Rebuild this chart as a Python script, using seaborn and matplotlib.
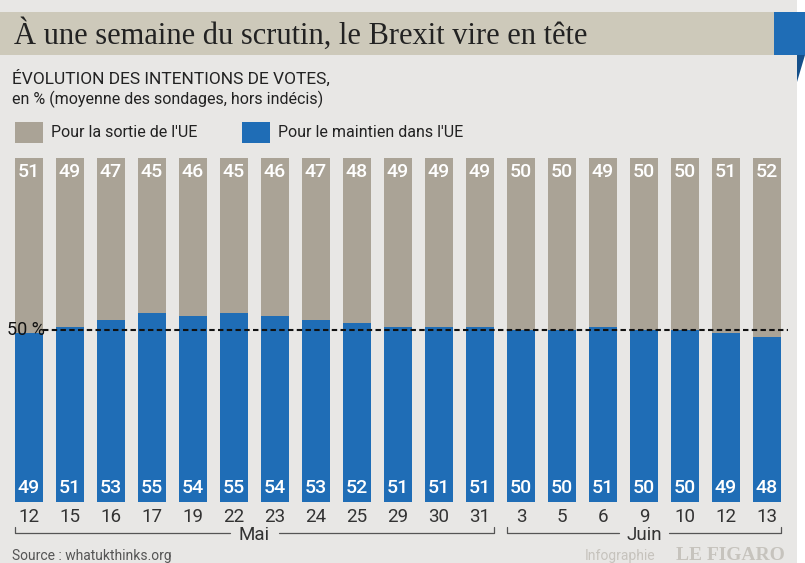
import matplotlib
matplotlib.use("Agg")
import matplotlib.pyplot as plt
from matplotlib.patches import Rectangle, Polygon
import seaborn as sns
import pandas as pd

days = ["12", "15", "16", "17", "19", "22", "23", "24", "25", "29", "30", "31",
        "3", "5", "6", "9", "10", "12", "13"]
months = ["Mai"] * 12 + ["Juin"] * 7
sortie = [51, 49, 47, 45, 46, 45, 46, 47, 48, 49, 49, 49, 50, 50, 49, 50, 50, 51, 52]
maintien = [49, 51, 53, 55, 54, 55, 54, 53, 52, 51, 51, 51, 50, 50, 51, 50, 50, 49, 48]

GRAY = "#aaa396"
BLUE = "#1f6db6"
BG = "#e8e7e5"
SANS = ["Roboto", "DejaVu Sans"]
SERIF = ["Liberation Serif", "DejaVu Serif"]

sns.set_theme(style="white")
plt.rcParams["font.family"] = SANS

W, H = 805, 563
fig = plt.figure(figsize=(W / 100, H / 100), dpi=100)
fig.patch.set_facecolor("white")

def fx(px):
    return px / W

def fy(py):
    return 1 - py / H

# panel background
fig.patches.append(Rectangle((0, 0), fx(797), 1, transform=fig.transFigure,
                             facecolor=BG, edgecolor="none", zorder=0))
# title band
fig.patches.append(Rectangle((0, fy(55)), fx(774), fy(12) - fy(55), transform=fig.transFigure,
                             facecolor="#cdc9ba", edgecolor="none", zorder=1))
fig.patches.append(Rectangle((fx(774), fy(55)), fx(26), fy(12) - fy(55), transform=fig.transFigure,
                             facecolor="#1f6db6", edgecolor="none", zorder=1))
fig.patches.append(Polygon([(fx(797), fy(55)), (fx(805), fy(55)), (fx(797), fy(82))],
                           closed=True, transform=fig.transFigure,
                           facecolor="#15508a", edgecolor="none", zorder=1))
fig.patches.append(Polygon([(fx(800), fy(12)), (fx(805), fy(12)), (fx(805), fy(55)), (fx(800), fy(55))],
                           closed=True, transform=fig.transFigure,
                           facecolor="#1f6db6", edgecolor="none", zorder=1))

fig.text(fx(14), fy(34), "À une semaine du scrutin, le Brexit vire en tête",
         family=SERIF, fontsize=22, color="#222222", va="center", ha="left")
fig.text(fx(12), fy(78), "ÉVOLUTION DES INTENTIONS DE VOTES,", fontsize=12.5,
         color="#222222", va="center", ha="left")
fig.text(fx(12), fy(99), "en % (moyenne des sondages, hors indécis)", fontsize=11.5,
         color="#222222", va="center", ha="left")

# legend
fig.patches.append(Rectangle((fx(15), fy(143)), fx(28), fy(122) - fy(143), transform=fig.transFigure,
                             facecolor=GRAY, edgecolor="none", zorder=2))
fig.text(fx(51), fy(133), "Pour la sortie de l'UE", fontsize=11.5, color="#222222", va="center")
fig.patches.append(Rectangle((fx(242), fy(143)), fx(28), fy(122) - fy(143), transform=fig.transFigure,
                             facecolor=BLUE, edgecolor="none", zorder=2))
fig.text(fx(278), fy(133), "Pour le maintien dans l'UE", fontsize=11.5, color="#222222", va="center")

# axes
left_px, right_px = 8.5, 787.5
top_px, bot_px = 158, 502
ax = fig.add_axes([fx(left_px), fy(bot_px), fx(right_px - left_px), fy(top_px) - fy(bot_px)])
ax.set_facecolor("none")
ax.set_zorder(5)

df = pd.DataFrame({"pos": list(range(len(days))), "day": days, "month": months,
                   "sortie": sortie, "maintien": maintien})
df["total"] = df["sortie"] + df["maintien"]

sns.barplot(data=df, x="pos", y="total", color=GRAY, width=0.69, saturation=1, ax=ax,
            edgecolor="none", linewidth=0)
sns.barplot(data=df, x="pos", y="maintien", color=BLUE, width=0.69, saturation=1, ax=ax,
            edgecolor="none", linewidth=0)

ax.set_xlim(-0.5, len(days) - 0.5)
ax.set_ylim(0, 100)
for s in ax.spines.values():
    s.set_visible(False)
ax.set_yticks([])
ax.set_xticks(range(len(days)))
ax.set_xticklabels(days, fontsize=13.5, color="#333333")
ax.tick_params(axis="x", length=0, pad=4)
ax.set_xlabel("")
ax.set_ylabel("")

for i, (s, m) in enumerate(zip(sortie, maintien)):
    ax.text(i, 95.9, str(s), ha="center", va="center", color="white", fontsize=14, fontweight="medium")
    ax.text(i, 4.1, str(m), ha="center", va="center", color="white", fontsize=14, fontweight="medium")

# 50% dashed line
ax.plot([0.33, len(days) - 0.5], [50, 50], ls=(0, (2.6, 1.6)), color="#111111", lw=1.5, zorder=5)
ax.text(-0.53, 50, "50 %", ha="left", va="center", fontsize=13, color="#111111", zorder=6)

# month brackets
def bracket(i0, i1, label):
    xs = i0 - 0.35
    xe = i1 + 0.35
    yb = -9.0
    yt = -7.2
    mid = (xs + xe) / 2
    gap = 0.6
    kw = dict(color="#555555", lw=0.9, clip_on=False)
    ax.plot([xs, xs, mid - gap], [yt, yb, yb], **kw)
    ax.plot([mid + gap, xe, xe], [yb, yb, yt], **kw)
    ax.text(mid, yb - 0.5, label, ha="center", va="center", fontsize=13.5, color="#333333")

bracket(0, 11, "Mai")
bracket(12, 18, "Juin")

# footer
fig.text(fx(12), fy(556), "Source : whatukthinks.org", fontsize=10, color="#555555", va="center")
fig.text(fx(585), fy(556), "Infographie", fontsize=10, color="#c6c3bd", va="center")
fig.text(fx(785), fy(556), "LE FIGARO", family=SERIF, fontsize=14, fontweight="bold",
         color="#c6c3bd", va="center", ha="right")

fig.savefig("out.png", dpi=100, facecolor=fig.get_facecolor())
